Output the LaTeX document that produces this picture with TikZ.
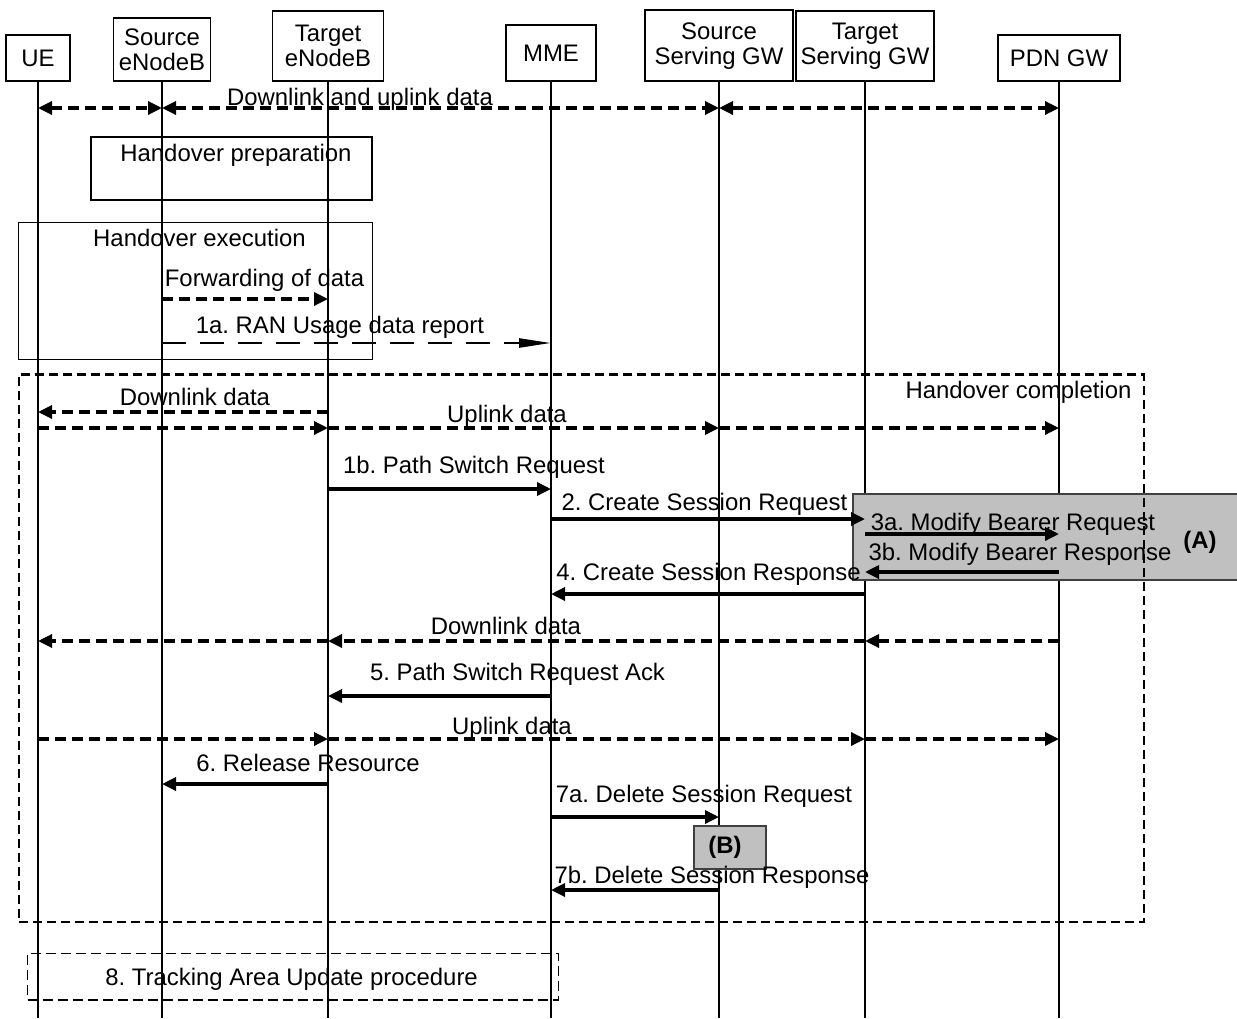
\documentclass[tikz,border=0pt]{standalone}
\usepackage{fontspec}
\setmainfont{Liberation Sans}
\usetikzlibrary{arrows.meta, positioning}
\definecolor{primary}{RGB}{0,0,0}
\definecolor{shade}{RGB}{192,192,192}
\frenchspacing

\begin{document}
\begin{tikzpicture}[x=1pt, y=-1pt,
  font=\fontsize{23.9}{25}\selectfont,
  >={Triangle[length=14pt, width=13pt]},
  entity/.style={rectangle, draw=primary, line width=1.6pt, align=center, inner sep=0pt, anchor=south},
  lifeline/.style={line width=1.6pt, primary},
  phase/.style={rectangle, draw=primary, line width=1.6pt, inner sep=0pt},
  stage/.style={phase, line width=2.4pt, dash pattern=on 9pt off 5pt},
  tau/.style={phase, line width=1.5pt, dash pattern=on 10pt off 5pt},
  grey/.style={rectangle, draw=primary!75, fill=shade, line width=1.6pt, inner sep=0pt},
  lbl/.style={inner sep=0pt, text=primary, text height=17pt, text depth=0pt},
  msg/.style={line width=3.3pt, primary, ->},
  data/.style={msg, dash pattern=on 11pt off 6pt},
  report/.style={line width=2.4pt, primary, dash pattern=on 24pt off 14pt, -{Triangle[length=32pt, width=9pt]}}
]
\useasboundingbox (0,0) rectangle (1237,1018);

% Entities
\node[entity, minimum width=64pt, minimum height=46pt] (ue) at (38,82) {UE};
\node[entity, minimum width=97pt, minimum height=63pt] (src) at (162,82) {Source\\eNodeB};
\node[entity, minimum width=111pt, minimum height=70pt] (tgt) at (328,82) {Target\\eNodeB};
\node[entity, minimum width=90pt, minimum height=56pt] (mme) at (551,82) {MME};
\node[entity, minimum width=148pt, minimum height=71pt] (ssgw) at (719,82) {Source\\Serving GW};
\node[entity, minimum width=138pt, minimum height=70pt] (tsgw) at (865,82) {Target\\Serving GW};
\node[entity, minimum width=122pt, minimum height=46pt] (pdn) at (1059,82) {PDN GW};

% Message rows
\foreach \n/\y in {top/108, fwd/299, ran/343, dla/412, ula/428, psr/489, csr/519,
  mbq/534, mbr/572, csp/594, dlb/641, psa/696, ulb/739, rel/784, dsq/817, dsp/890, bottom/1018}
  \coordinate (\n) at (0,\y);

% Lifelines
\foreach \e in {ue, src, tgt, mme, ssgw, tsgw, pdn}
  \draw[lifeline] (\e.south) -- (\e |- bottom);

% Phases
\node[phase, minimum width=281pt, minimum height=63pt] (prep) at (231.3,168.7) {};
\node[phase, minimum width=354pt, minimum height=137pt] (exec) at (195.5,291) {};
\node[grey, minimum width=390pt, minimum height=86pt] (boxa) at (1048,537) {};
\node[grey, minimum width=72pt, minimum height=43pt] (boxb) at (730,847.7) {};
\node[stage, minimum width=1125pt, minimum height=547.5pt] (hoc) at (581.3,648.3) {};
\node[tau, minimum width=530.6pt, minimum height=46.7pt] (tau) at (293,976.7) {};

% Downlink and uplink data
\draw[data, <->] (ue |- top) -- (src |- top);
\draw[data, <->] (src |- top) -- (ssgw |- top);
\draw[data, <->] (ssgw |- top) -- (pdn |- top);

% Handover execution
\draw[data] (src |- fwd) -- (tgt |- fwd);
\draw[report] (src |- ran) -- (mme |- ran);

% Handover completion
\draw[data] (tgt |- dla) -- (ue |- dla);
\draw[data] (ue |- ula) -- (tgt |- ula);
\draw[data] (tgt |- ula) -- (ssgw |- ula);
\draw[data] (ssgw |- ula) -- (pdn |- ula);
\draw[msg] (tgt |- psr) -- (mme |- psr);
\draw[msg] (mme |- csr) -- (tsgw |- csr);
\draw[msg] (tsgw |- mbq) -- (pdn |- mbq);
\draw[msg] (pdn |- mbr) -- (tsgw |- mbr);
\draw[msg] (tsgw |- csp) -- (mme |- csp);
\draw[data] (pdn |- dlb) -- (tsgw |- dlb);
\draw[data] (tsgw |- dlb) -- (tgt |- dlb);
\draw[data] (tgt |- dlb) -- (ue |- dlb);
\draw[msg] (mme |- psa) -- (tgt |- psa);
\draw[data] (ue |- ulb) -- (tgt |- ulb);
\draw[data] (tgt |- ulb) -- (tsgw |- ulb);
\draw[data] (tsgw |- ulb) -- (pdn |- ulb);
\draw[msg] (tgt |- rel) -- (src |- rel);
\draw[msg] (mme |- dsq) -- (ssgw |- dsq);
\draw[msg] (ssgw |- dsp) -- (mme |- dsp);

% Labels
\node[lbl] (t-top) at (360,97) {Downlink and uplink data};
\node[lbl] (t-prep) at (236,153) {Handover preparation};
\node[lbl] (t-exec) at (199.5,238) {Handover execution};
\node[lbl] (t-fwd) at (264.5,278) {Forwarding of data};
\node[lbl] (t-ran) at (340,325) {1a. RAN Usage data report};
\node[lbl] (t-hoc) at (1018.5,390) {Handover completion};
\node[lbl] (t-dla) at (195,397) {Downlink data};
\node[lbl] (t-ula) at (507,414) {Uplink data};
\node[lbl] (t-psr) at (474,465) {1b. Path Switch Request};
\node[lbl] (t-csr) at (704.5,502) {2. Create Session Request};
\node[lbl] (t-mbq) at (1013,522) {3a. Modify Bearer Request};
\node[lbl] (t-mbr) at (1020,552) {3b. Modify Bearer Response};
\node[lbl] (t-csp) at (708.5,572) {4. Create Session Response};
\node[lbl] (t-dlb) at (506,626) {Downlink data};
\node[lbl] (t-psa) at (517.5,672) {5. Path Switch Request Ack};
\node[lbl] (t-ulb) at (512,726) {Uplink data};
\node[lbl] (t-rel) at (308,763) {6. Release Resource};
\node[lbl] (t-dsq) at (704,794) {7a. Delete Session Request};
\node[lbl] (t-dsp) at (712,875) {7b. Delete Session Response};
\node[lbl] (t-tau) at (291.6,976.7) {8. Tracking Area Update procedure};
\node[lbl] (t-a) at (1200,540) {\bfseries (A)};
\node[lbl] (t-b) at (725,845) {\bfseries (B)};

\end{tikzpicture}
\end{document}
